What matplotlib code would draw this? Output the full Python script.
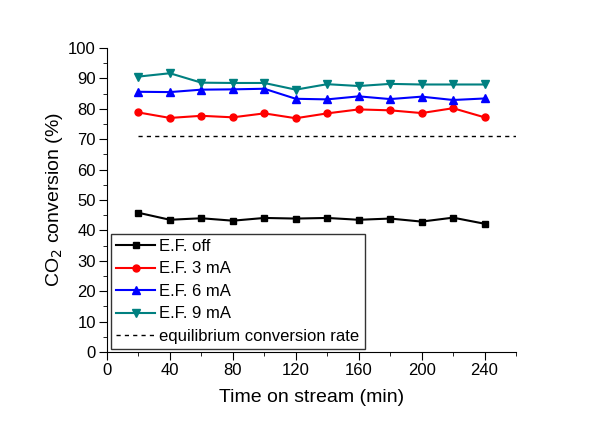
import matplotlib.pyplot as plt
from matplotlib.ticker import MultipleLocator

plt.rcParams["font.family"] = ["Liberation Sans", "DejaVu Sans"]

# data
time_min = [20, 40, 60, 80, 100, 120, 140, 160, 180, 200, 220, 240]
ef_off = [45.8, 43.5, 44.0, 43.2, 44.1, 43.9, 44.1, 43.5, 43.9, 42.9, 44.2, 42.2]
ef_3ma = [78.8, 77.0, 77.7, 77.2, 78.5, 76.9, 78.5, 79.8, 79.5, 78.6, 80.2, 77.2]
ef_6ma = [85.6, 85.5, 86.3, 86.4, 86.6, 83.3, 83.1, 84.1, 83.2, 84.0, 82.9, 83.4]
ef_9ma = [90.6, 91.7, 88.6, 88.5, 88.5, 86.3, 88.1, 87.5, 88.2, 88.0, 88.0, 88.0]
eq_x = [20, 260]
eq_rate = [71.0, 71.0]

fig = plt.figure(figsize=(5.99, 4.23), dpi=100)
ax = fig.add_axes([0.1786, 0.1678, 0.6828, 0.7187])

ax.plot(time_min, ef_off, color='black', marker='s', markersize=5, lw=1.5, label='E.F. off')
ax.plot(time_min, ef_3ma, color='#FF0000', marker='o', markersize=5, lw=1.5, label='E.F. 3 mA')
ax.plot(time_min, ef_6ma, color='#0000FF', marker='^', markersize=6, lw=1.5, label='E.F. 6 mA')
ax.plot(time_min, ef_9ma, color='#008080', marker='v', markersize=6, lw=1.5, label='E.F. 9 mA')
ax.plot(eq_x, eq_rate, color='black', ls=(0, (3, 3)), lw=1, label='equilibrium conversion rate')

ax.set_xlim(0, 260)
ax.set_ylim(0, 100)
ax.xaxis.set_major_locator(MultipleLocator(40))
ax.xaxis.set_minor_locator(MultipleLocator(20))
ax.yaxis.set_major_locator(MultipleLocator(10))
ax.yaxis.set_minor_locator(MultipleLocator(5))
ax.spines['top'].set_visible(False)
ax.spines['right'].set_visible(False)
ax.tick_params(which='major', length=6, pad=2, labelsize=12)
ax.tick_params(which='minor', length=3)

ax.set_xlabel('Time on stream (min)', fontsize=14, labelpad=8)
ax.set_ylabel('CO$_2$ conversion (%)', fontsize=14, labelpad=2)

leg = ax.legend(loc='lower left', bbox_to_anchor=(0.01, 0.01), fontsize=12,
                frameon=True, fancybox=False, edgecolor='black',
                handlelength=2.35, labelspacing=0.45, borderpad=0.3,
                handletextpad=0.25, borderaxespad=0)
leg.get_frame().set_linewidth(1)

fig.savefig('out.png', dpi=100)
